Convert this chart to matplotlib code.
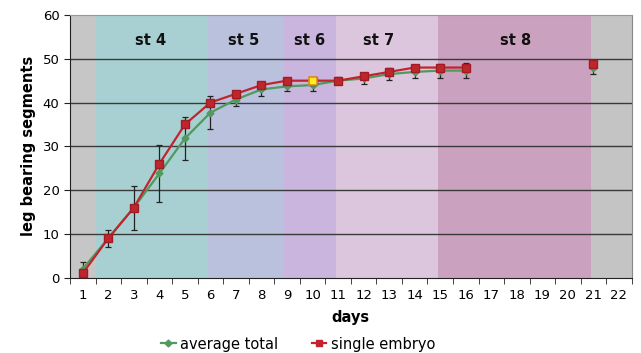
import matplotlib
matplotlib.use("Agg")
import matplotlib.pyplot as plt
import numpy as np
from matplotlib.lines import Line2D

days = [str(i) for i in range(1, 23)]
avg_days = [1, 2, 3, 4, 5, 6, 7, 8, 9, 10, 11, 12, 13, 14, 15, 16]
avg_total = [2.0, 9.0, 16.0, 23.8, 31.8, 37.7, 40.7, 43.0, 43.7, 44.0, 45.0, 45.5, 46.5, 47.0, 47.3, 47.3]
avg_err = [1.5, 2.0, 5.0, 6.4, 4.9, 3.8, 1.5, 1.5, 1.0, 1.3, 0.8, 1.2, 1.4, 1.5, 1.6, 1.7]
avg21_total = [47.8]
avg21_err = [1.2]
single = [1.0, 9.0, 16.0, 26.0, 35.0, 40.0, 42.0, 44.0, 45.0, 45.0, 45.0, 46.0, 47.0, 48.0, 48.0, 48.0]
single21 = [48.8]
highlight_day = 10
highlight_val = 45.0

stage_names = ["", "st 4", "st 5", "st 6", "st 7", "st 8", ""]
stage_bounds = [0.5, 1.5, 5.9, 8.9, 10.9, 14.9, 20.9, 22.5]
stage_label_x = [None, 3.66, 7.3, 9.9, 12.6, 17.95, None]
stage_colors = ["#c6c6c6", "#a8d0d2", "#b9c1dd", "#c9b5dd", "#dcc6de", "#caa2bf", "#c4c4c4"]

fig = plt.figure(figsize=(6.41, 3.53), dpi=100)
ax = fig.add_axes([70/641, 1-277.7/353, (631.7-70)/641, (277.7-15)/353])

for i in range(len(stage_colors)):
    ax.axvspan(stage_bounds[i], stage_bounds[i+1], color=stage_colors[i], lw=0, zorder=0)
    if stage_names[i]:
        ax.text(stage_label_x[i], 54.2, stage_names[i], ha="center", va="center",
                fontsize=10.5, fontweight="bold", color="#111111", zorder=3)

for yv in [10, 20, 30, 40, 50]:
    ax.axhline(yv, color="#3a3a3a", lw=1.0, zorder=1)

green = "#4f9a5c"
red = "#c0252e"

ax.errorbar(avg_days, avg_total, yerr=avg_err, color=green, lw=1.6, marker="D", ms=3.5,
            mfc=green, mec=green, ecolor="#222222", elinewidth=0.9, capsize=2.5, capthick=0.9, zorder=4)
ax.errorbar([21], avg21_total, yerr=avg21_err, color=green, lw=1.6, marker="D", ms=3.5,
            mfc=green, mec=green, ecolor="#222222", elinewidth=0.9, capsize=2.5, capthick=0.9, zorder=4)
ax.plot(avg_days, single, color=red, lw=1.6, marker="s", ms=5.5, mfc=red, mec="#a01c22", zorder=5)
ax.plot([21], single21, color=red, lw=1.6, marker="s", ms=5.5, mfc=red, mec="#a01c22", zorder=5)
ax.plot([highlight_day], [highlight_val], marker="s", ms=5.5, mfc="#ffee22", mec="#e08a20", mew=1.2, zorder=6)

ax.set_xlim(0.5, 22.5)
ax.set_ylim(0, 60)
ax.set_xticks(range(1, 23))
ax.set_xticklabels(days)
ax.set_xticks(np.arange(0.5, 23, 1), minor=True)
ax.tick_params(axis="x", which="major", length=0, labelsize=9.5, pad=8)
ax.tick_params(axis="x", which="minor", length=4, direction="out", color="#222222")
ax.set_yticks(range(0, 61, 10))
ax.tick_params(axis="y", which="major", length=4, direction="out", labelsize=9.5, color="#222222")

ax.spines["left"].set_color("#222222")
ax.spines["bottom"].set_color("#222222")
ax.spines["top"].set_color("#999999")
ax.spines["right"].set_color("#888888")

ax.set_xlabel("days", fontsize=10.5, fontweight="bold", labelpad=6)
ax.set_ylabel("leg bearing segments", fontsize=10.5, fontweight="bold", labelpad=5)

handles = [Line2D([], [], color=green, lw=1.6, marker="D", ms=3.5),
           Line2D([], [], color=red, lw=1.6, marker="s", ms=4.5)]
fig.legend(handles, ["average total", "single embryo"], loc="center", bbox_to_anchor=(0.465, 1-344/353),
           ncol=2, frameon=False, fontsize=10.5, handlelength=1.0, handletextpad=0.3, columnspacing=2.3)

fig.savefig("out.png", dpi=100)
